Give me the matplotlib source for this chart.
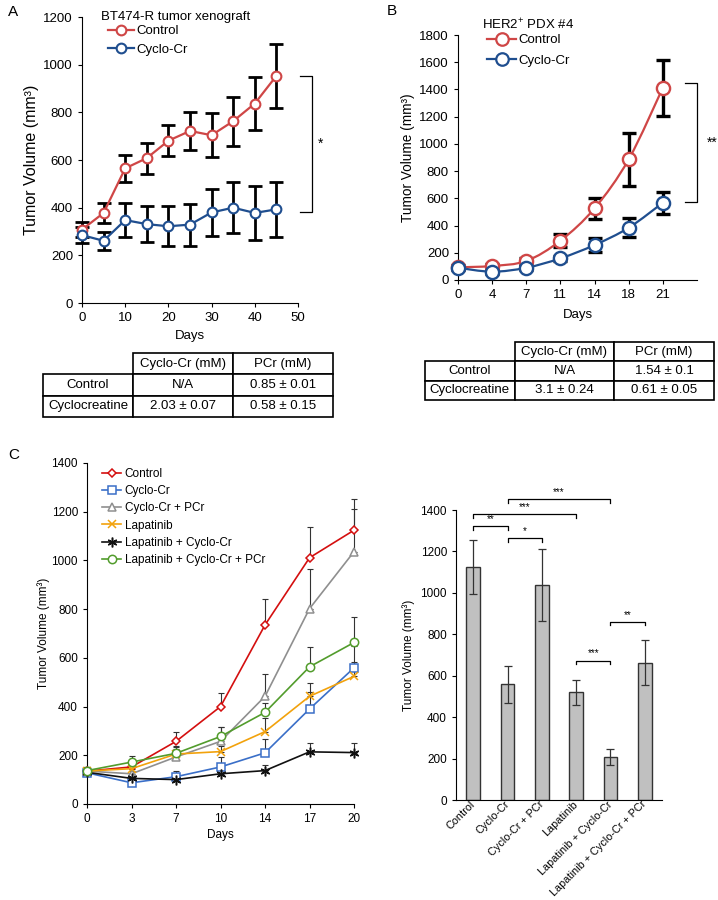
import numpy as np
import matplotlib.pyplot as plt
from matplotlib.path import Path
from matplotlib.patches import PathPatch

plt.rcParams['font.family'] = ['Liberation Sans', 'DejaVu Sans']
plt.rcParams['mathtext.fontset'] = 'custom'
plt.rcParams['mathtext.rm'] = 'Liberation Sans'
plt.rcParams['mathtext.it'] = 'Liberation Sans:italic'

# ---- panel A data (BT474-R xenograft)
days_a = [0, 5, 10, 15, 20, 25, 30, 35, 40, 45]
ctrl_a = [308, 378, 565, 608, 681, 722, 704, 763, 837, 953]
ctrl_a_err = [30, 42, 57, 65, 65, 80, 92, 103, 112, 135]
cyc_a = [285, 261, 348, 331, 322, 329, 380, 400, 378, 393]
cyc_a_err = [33, 38, 73, 75, 84, 88, 100, 108, 112, 115]
brk_a = [953, 383]

# ---- panel B data (HER2+ PDX #4)
days_b = ['0', '4', '7', '11', '14', '18', '21']
ctrl_b = [93, 103, 140, 289, 527, 887, 1413]
ctrl_b_err = [15, 15, 20, 48, 77, 196, 205]
cyc_b = [90, 61, 90, 159, 257, 384, 568]
cyc_b_err = [15, 15, 15, 20, 49, 68, 81]
brk_b = [1450, 571]

# ---- tables
tab_cols = ['', 'Cyclo-Cr (mM)', 'PCr (mM)']
tab_rows = ['Control', 'Cyclocreatine']
tab_a_vals = [['N/A', '0.85 ± 0.01'], ['2.03 ± 0.07', '0.58 ± 0.15']]
tab_b_vals = [['N/A', '1.54 ± 0.1'], ['3.1 ± 0.24', '0.61 ± 0.05']]

# ---- panel C line data
days_c = ['0', '3', '7', '10', '14', '17', '20']
groups = ['Control', 'Cyclo-Cr', 'Cyclo-Cr + PCr', 'Lapatinib',
          'Lapatinib + Cyclo-Cr', 'Lapatinib + Cyclo-Cr + PCr']
ctrl_c = [135, 152, 257, 400, 735, 1011, 1124]
ctrl_c_err = [17, 10, 37, 54, 105, 127, 129]
cyc_c = [128, 87, 112, 152, 210, 390, 559]
cyc_c_err = [15, 10, 25, 40, 57, 68, 89]
ccp_c = [135, 124, 193, 257, 442, 802, 1036]
ccp_c_err = [15, 10, 47, 60, 90, 163, 175]
lap_c = [135, 145, 205, 215, 297, 442, 524]
lap_c_err = [15, 10, 20, 25, 55, 55, 58]
lapcc_c = [130, 105, 100, 124, 137, 214, 211]
lapcc_c_err = [15, 10, 15, 15, 22, 38, 38]
lapccp_c = [137, 172, 208, 277, 376, 563, 663]
lapccp_c_err = [15, 23, 25, 40, 40, 81, 105]

# ---- panel C bar data (day 20)
bar_vals = [1126, 558, 1038, 520, 209, 663]
bar_err = [129, 89, 175, 60, 38, 110]
sig = [(1, 4, 1453, '***'), (0, 3, 1381, '***'), (0, 1, 1323, '**'),
       (1, 2, 1263, '*'), (3, 4, 673, '***'), (4, 5, 861, '**')]

RED_AB = '#cf4646'
BLUE_AB = '#1f4e8f'


def smooth_path(x, y):
    # Catmull-Rom curve through the points, drawn as cubic beziers
    pts = np.column_stack([x, y]).astype(float)
    verts = [tuple(pts[0])]
    codes = [Path.MOVETO]
    n = len(pts)
    for i in range(n - 1):
        p0 = pts[max(i - 1, 0)]
        p1 = pts[i]
        p2 = pts[i + 1]
        p3 = pts[min(i + 2, n - 1)]
        verts += [tuple(p1 + (p2 - p0) / 6), tuple(p2 - (p3 - p1) / 6), tuple(p2)]
        codes += [Path.CURVE4] * 3
    return Path(verts, codes)


def style_axes(ax, fs):
    ax.spines['top'].set_visible(False)
    ax.spines['right'].set_visible(False)
    ax.tick_params(direction='out', length=3, width=0.8, labelsize=fs)


fig = plt.figure(figsize=(7.18, 9.0), dpi=100)

# ================= A
axA = fig.add_axes([0.1142, 0.6633, 0.3008, 0.3178])
axA.errorbar(days_a, ctrl_a, yerr=ctrl_a_err, fmt='none', ecolor='black',
             elinewidth=2, capsize=5, capthick=2, zorder=2, clip_on=False)
axA.errorbar(days_a, cyc_a, yerr=cyc_a_err, fmt='none', ecolor='black',
             elinewidth=2, capsize=5, capthick=2, zorder=2, clip_on=False)
axA.plot(days_a, ctrl_a, '-o', color=RED_AB, lw=1.6, ms=7, mfc='white',
         mew=1.5, label='Control', zorder=3, clip_on=False)
axA.plot(days_a, cyc_a, '-o', color=BLUE_AB, lw=1.6, ms=7, mfc='white',
         mew=1.5, label='Cyclo-Cr', zorder=3, clip_on=False)
axA.set_xlim(0, 50)
axA.set_ylim(0, 1200)
axA.set_xticks(range(0, 51, 10))
axA.set_yticks(range(0, 1201, 200))
style_axes(axA, 9.5)
axA.set_xlabel('Days', fontsize=9.5, labelpad=4)
axA.set_ylabel('Tumor Volume (mm³)', fontsize=11.5, labelpad=3)
axA.text(0.09, 1.0, 'BT474-R tumor xenograft', transform=axA.transAxes,
         fontsize=9.5, va='center')
axA.legend(loc='upper left', bbox_to_anchor=(0.095, 0.99), frameon=False,
           fontsize=9.5, handlelength=2.0, handletextpad=0.2, labelspacing=0.45,
           borderaxespad=0)
axA.plot([50.5, 53.2, 53.2, 50.5], [brk_a[0], brk_a[0], brk_a[1], brk_a[1]],
         color='black', lw=0.9, clip_on=False)
axA.text(54.5, np.mean(brk_a), '*', fontsize=10, va='center', ha='left')

# ================= B
axB = fig.add_axes([0.6379, 0.6889, 0.3329, 0.2722])
xb = np.arange(len(days_b))
axB.errorbar(xb, ctrl_b, yerr=ctrl_b_err, fmt='none', ecolor='black',
             elinewidth=2.4, capsize=5, capthick=2.4, zorder=2, clip_on=False)
axB.errorbar(xb, cyc_b, yerr=cyc_b_err, fmt='none', ecolor='black',
             elinewidth=2.4, capsize=5, capthick=2.4, zorder=2, clip_on=False)
axB.add_patch(PathPatch(smooth_path(xb, ctrl_b), fill=False, color=RED_AB, lw=1.6, zorder=2.5))
axB.add_patch(PathPatch(smooth_path(xb, cyc_b), fill=False, color=BLUE_AB, lw=1.6, zorder=2.5))
axB.plot(xb, ctrl_b, 'o', color=RED_AB, ms=9.5, mfc='white', mew=1.7, zorder=3, clip_on=False)
axB.plot(xb, cyc_b, 'o', color=BLUE_AB, ms=9.5, mfc='white', mew=1.7, zorder=3, clip_on=False)
axB.plot([], [], '-o', color=RED_AB, lw=1.6, ms=9, mfc='white', mew=1.6, label='Control')
axB.plot([], [], '-o', color=BLUE_AB, lw=1.6, ms=9, mfc='white', mew=1.6, label='Cyclo-Cr')
axB.set_xlim(0, 7)
axB.set_ylim(0, 1800)
axB.set_xticks(xb)
axB.set_xticklabels(days_b)
axB.set_yticks(range(0, 1801, 200))
style_axes(axB, 9.5)
axB.set_xlabel('Days', fontsize=9.5, labelpad=6)
axB.set_ylabel('Tumor Volume (mm³)', fontsize=9.8, labelpad=3)
axB.text(0.1, 1.04, 'HER2$^{+}$ PDX #4', transform=axB.transAxes,
         fontsize=9.5, va='center')
axB.legend(loc='upper left', bbox_to_anchor=(0.1, 1.025), frameon=False,
           fontsize=9.5, handlelength=2.2, handletextpad=0.2, labelspacing=0.6,
           borderaxespad=0)
axB.plot([6.65, 7.0, 7.0, 6.65], [brk_b[0], brk_b[0], brk_b[1], brk_b[1]],
         color='black', lw=0.9, clip_on=False)
axB.text(7.3, np.mean(brk_b), '**', fontsize=10, va='center', ha='left')


# ================= tables
def draw_table(rect, vals):
    ax = fig.add_axes(rect)
    ax.axis('off')
    cells = [tab_cols] + [[r] + v for r, v in zip(tab_rows, vals)]
    tb = ax.table(cellText=cells, cellLoc='center', bbox=[0, 0, 1, 1],
                  colWidths=[0.31, 0.345, 0.345])
    tb.auto_set_font_size(False)
    tb.set_fontsize(9.5)
    for (r, c), cell in tb.get_celld().items():
        cell.set_linewidth(1.2)
        if r == 0 and c == 0:
            cell.visible_edges = 'open'
    return tb


draw_table([43 / 718, 1 - 417 / 900, 290 / 718, 64 / 900], tab_a_vals)
draw_table([425 / 718, 1 - 400 / 900, 289 / 718, 58 / 900], tab_b_vals)

# ================= C line plot
axC = fig.add_axes([0.1212, 0.1067, 0.3719, 0.3789])
xc = np.arange(len(days_c))
series = [
    (ctrl_c, ctrl_c_err, '#d40f0f', 'D', 4.0),
    (cyc_c, cyc_c_err, '#3a6fc8', 's', 5.5),
    (ccp_c, ccp_c_err, '#8f8f8f', '^', 6.0),
    (lap_c, lap_c_err, '#f2a20c', 'x', 6.0),
    (lapcc_c, lapcc_c_err, '#111111', (6, 2, 0), 7.0),
    (lapccp_c, lapccp_c_err, '#529c2c', 'o', 6.0),
]
for name, (vals, err, col, mk, ms) in zip(groups, series):
    axC.errorbar(xc, vals, yerr=[np.zeros(len(err)), err], fmt='none',
                 ecolor='#333333', elinewidth=0.8, capsize=2.5, capthick=0.8,
                 zorder=2, clip_on=False)
    axC.plot(xc, vals, '-', marker=mk, color=col, lw=1.2, ms=ms,
             mfc='white', mew=1.1, label=name, zorder=3, clip_on=False)
axC.set_xlim(0, 6)
axC.set_ylim(0, 1400)
axC.set_xticks(xc)
axC.set_xticklabels(days_c)
axC.set_yticks(range(0, 1401, 200))
style_axes(axC, 8.5)
axC.set_xlabel('Days', fontsize=8.5, labelpad=3)
axC.set_ylabel('Tumor Volume (mm³)', fontsize=8.5, labelpad=1)
axC.legend(loc='upper left', bbox_to_anchor=(0.04, 1.0), frameon=False,
           fontsize=8.5, handlelength=1.6, handletextpad=0.3, labelspacing=0.45,
           borderaxespad=0)

# ================= C bar chart
axD = fig.add_axes([0.6351, 0.1111, 0.2869, 0.3222])
xd = np.arange(len(groups))
axD.bar(xd, bar_vals, width=0.4, color='#c0c0c0', edgecolor='#333333',
        linewidth=1.0, zorder=2)
axD.errorbar(xd, bar_vals, yerr=bar_err, fmt='none', ecolor='#333333',
             elinewidth=0.9, capsize=3, capthick=0.9, zorder=3)
axD.set_xlim(-0.5, 5.5)
axD.set_ylim(0, 1400)
axD.set_xticks(xd)
axD.set_xticklabels(groups, rotation=45, ha='right', va='center',
                    rotation_mode='anchor')
axD.set_yticks(range(0, 1401, 200))
style_axes(axD, 8.5)
axD.tick_params(axis='x', length=0, pad=2, labelsize=7.8)
axD.set_ylabel('Tumor Volume (mm³)', fontsize=8.5, labelpad=4)
for a, b, h, s in sig:
    axD.plot([a, a, b, b], [h - 18, h, h, h - 18], color='black', lw=0.9, clip_on=False)
    axD.text((a + b) / 2, h + 10, s, ha='center', va='bottom', fontsize=7, clip_on=False)

# panel letters
fig.text(8 / 718, 1 - 12 / 900, 'A', fontsize=11, va='center')
fig.text(387 / 718, 1 - 11 / 900, 'B', fontsize=11, va='center')
fig.text(8 / 718, 1 - 455 / 900, 'C', fontsize=11, va='center')

fig.savefig('out.png', dpi=100)
